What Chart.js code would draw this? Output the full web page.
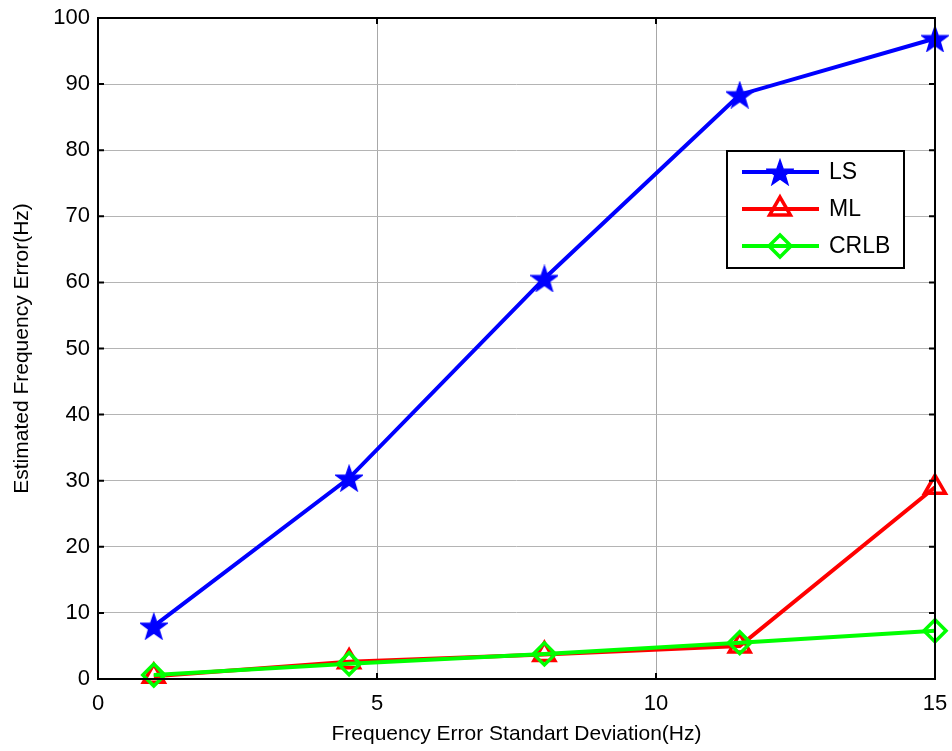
<!DOCTYPE html>
<html>
<head>
<meta charset="utf-8">
<script src="https://cdn.jsdelivr.net/npm/chart.js@4"></script>
<style>
  html,body{margin:0;padding:0;background:#fff;}
  #wrap{width:952px;height:751px;}
</style>
</head>
<body>
<div id="wrap"><canvas id="c" width="952" height="751"></canvas></div>
<script>
// -------- data --------
const xVals   = [1, 4.5, 8, 11.5, 15];
const lsVals  = [8.0, 30.4, 60.6, 88.4, 96.9];
const mlVals  = [0.4, 2.6, 3.7, 5.0, 29.0];
const crlbVals= [0.6, 2.3, 3.8, 5.5, 7.3];
const xTicks  = [0, 5, 10, 15];
const seriesNames = ['LS', 'ML', 'CRLB'];

const FONT = "'Liberation Sans', Arial, Helvetica, sans-serif";

// filled pentagram for LS markers
function makeStar(size, color){
    const cv = document.createElement('canvas');
    cv.width = size; cv.height = size;
    const g = cv.getContext('2d');
    const cx = size/2, cy = size/2 + 1.5, ro = size/2 - 0.5, ri = ro*0.4;
    g.beginPath();
    for(let i=0;i<10;i++){
        const r = i%2 ? ri : ro;
        const a = -Math.PI/2 + i*Math.PI/5;
        g.lineTo(cx + r*Math.cos(a), cy + r*Math.sin(a));
    }
    g.closePath();
    g.fillStyle = color; g.fill();
    g.strokeStyle = color; g.lineWidth = 1.5; g.stroke();
    return cv;
}
const starImg = makeStar(28, '#0000ff');

function pts(ys){ return xVals.map((x,i)=>({x:x, y:ys[i]})); }

// -------- frame, inward ticks and legend box --------
const framePlugin = {
    id:'frame',
    afterDraw(chart){
        const ctx = chart.ctx, a = chart.chartArea;
        const xs = chart.scales.x, ys = chart.scales.y;
        ctx.save();
        ctx.strokeStyle = '#000'; ctx.lineWidth = 2;
        ctx.strokeRect(a.left, a.top, a.right-a.left, a.bottom-a.top);
        const tl = 6;
        ctx.beginPath();
        xs.ticks.forEach(t=>{
            const px = xs.getPixelForValue(t.value);
            ctx.moveTo(px, a.bottom); ctx.lineTo(px, a.bottom-tl);
            ctx.moveTo(px, a.top); ctx.lineTo(px, a.top+tl);
        });
        ys.ticks.forEach(t=>{
            const py = ys.getPixelForValue(t.value);
            ctx.moveTo(a.left, py); ctx.lineTo(a.left+tl, py);
            ctx.moveTo(a.right, py); ctx.lineTo(a.right-tl, py);
        });
        ctx.stroke();

        // legend
        const bx = 727, by = 151, bw = 177, bh = 117;
        ctx.fillStyle = '#fff';
        ctx.fillRect(bx, by, bw, bh);
        ctx.lineWidth = 2; ctx.strokeStyle = '#000';
        ctx.strokeRect(bx, by, bw, bh);
        const rows = [172, 209, 246];
        chart.data.datasets.forEach((ds, i)=>{
            const y = rows[i];
            ctx.strokeStyle = ds.borderColor; ctx.lineWidth = ds.borderWidth;
            ctx.beginPath(); ctx.moveTo(bx+15, y); ctx.lineTo(bx+92, y); ctx.stroke();
            ctx.fillStyle = ds.pointBackgroundColor; ctx.strokeStyle = ds.pointBorderColor;
            ctx.lineWidth = ds.pointBorderWidth;
            Chart.helpers.drawPoint(ctx, {pointStyle: ds.pointStyle, radius: ds.pointRadius, rotation:0, borderWidth: ds.pointBorderWidth}, bx+53, y);
            ctx.fillStyle = '#000';
            ctx.font = '23px ' + FONT;
            ctx.textAlign = 'left'; ctx.textBaseline = 'middle';
            ctx.fillText(ds.label, bx+102, y+1);
        });
        ctx.restore();
    }
};

new Chart(document.getElementById('c'), {
    type:'line',
    data:{
        datasets:[
            {label:seriesNames[0], data:pts(lsVals), borderColor:'#0000ff', borderWidth:4,
             pointStyle:starImg, pointRadius:12, pointBackgroundColor:'#0000ff', pointBorderColor:'#0000ff', pointBorderWidth:1,
             order:2, clip:false},
            {label:seriesNames[1], data:pts(mlVals), borderColor:'#ff0000', borderWidth:4,
             pointStyle:'triangle', pointRadius:12, pointBackgroundColor:'rgba(255,255,255,0)', pointBorderColor:'#ff0000', pointBorderWidth:3.5,
             order:1, clip:false},
            {label:seriesNames[2], data:pts(crlbVals), borderColor:'#00ff00', borderWidth:4,
             pointStyle:'rectRot', pointRadius:11, pointBackgroundColor:'rgba(255,255,255,0)', pointBorderColor:'#00ff00', pointBorderWidth:3.5,
             order:0, clip:false}
        ]
    },
    options:{
        responsive:false,
        animation:false,
        events:[],
        layout:{padding:{left:0, top:18, right:17, bottom:0}},
        plugins:{legend:{display:false}, tooltip:{enabled:false}},
        elements:{line:{tension:0}},
        scales:{
            x:{
                type:'linear', min:0, max:15,
                afterBuildTicks: s=>{ s.ticks = xTicks.map(v=>({value:v})); },
                afterFit: s=>{ s.height = 72; s.paddingLeft = 0; s.paddingRight = 0; },
                grid:{color:'#a8a8a8', lineWidth:1, drawTicks:false},
                border:{display:false},
                ticks:{color:'#000', font:{family:FONT, size:22}, padding:12, maxRotation:0},
                title:{display:true, text:'Frequency Error Standart Deviation(Hz)', color:'#000',
                       font:{family:FONT, size:21}, padding:{top:0, bottom:4}}
            },
            y:{
                min:0, max:100,
                ticks:{stepSize:10, color:'#000', font:{family:FONT, size:22}, padding:8},
                afterFit: s=>{ s.width = 98; s.paddingTop = 0; s.paddingBottom = 0; },
                grid:{color:'#b4b4b4', lineWidth:1, drawTicks:false},
                border:{display:false},
                title:{display:true, text:'Estimated Frequency Error(Hz)', color:'#000',
                       font:{family:FONT, size:21}, padding:{top:10, bottom:0}}
            }
        }
    },
    plugins:[framePlugin]
});
</script>
</body>
</html>
